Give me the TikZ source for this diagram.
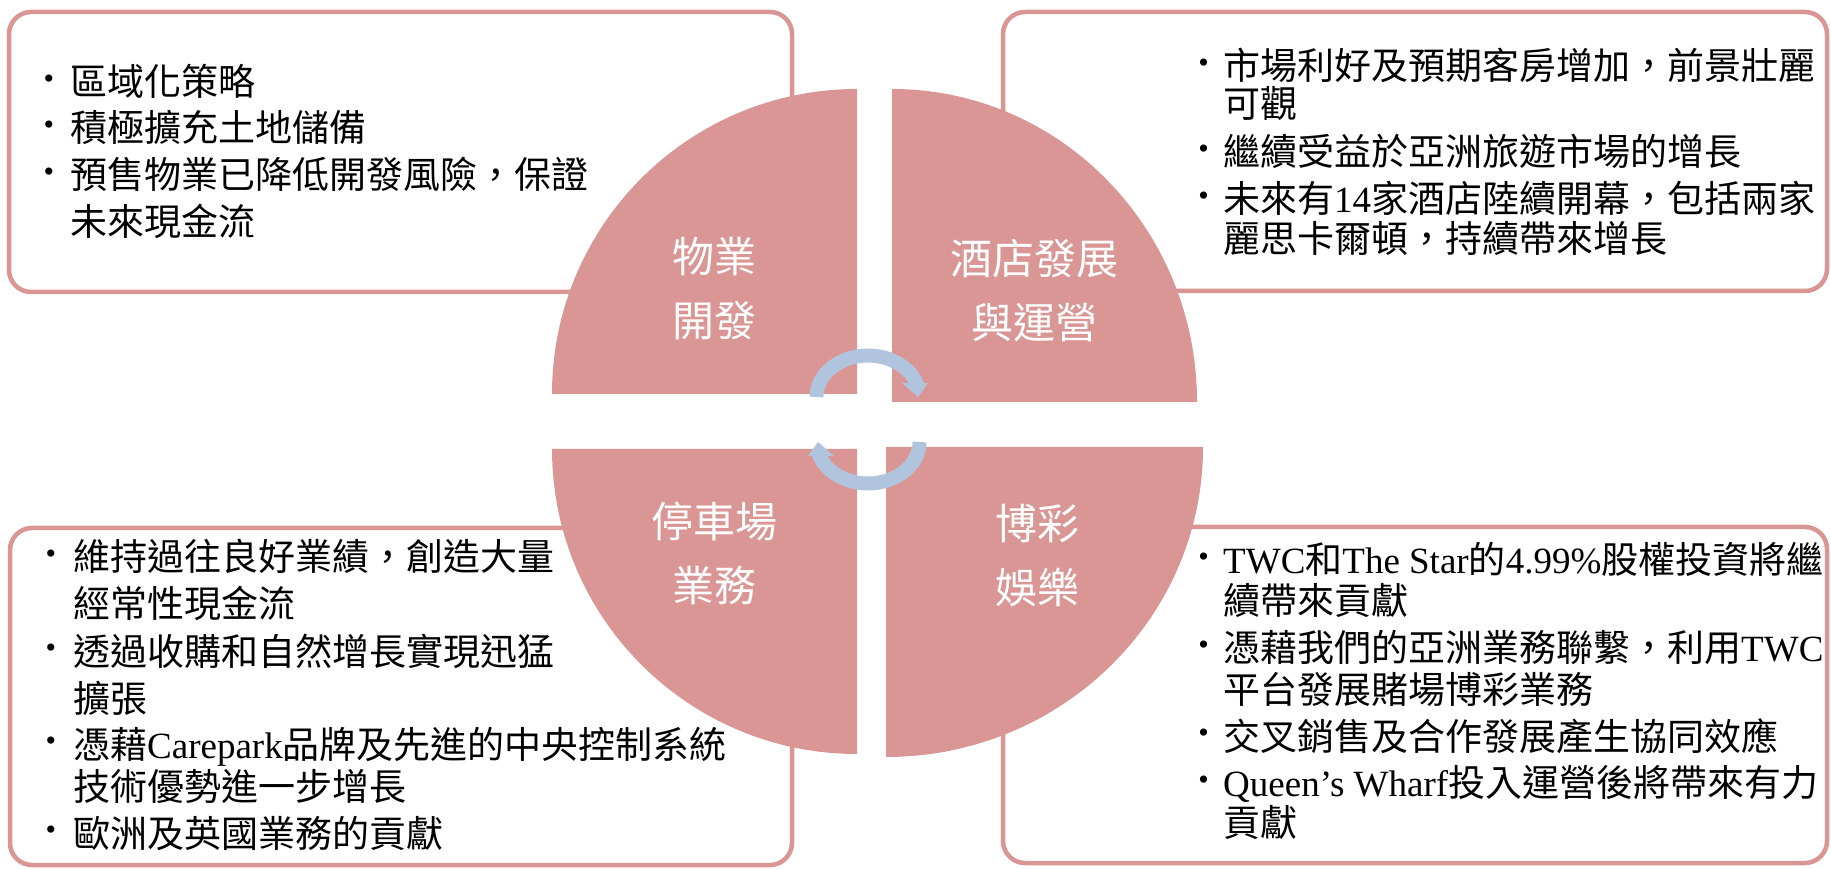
\documentclass[tikz,border=0pt]{standalone}
\usepackage{fontspec}
\newfontfamily\cjk{Noto Sans CJK TC}
\newfontfamily\lat{Liberation Serif}
\definecolor{piecol}{RGB}{217,150,148}
\definecolor{arrcol}{RGB}{176,196,222}
\begin{document}
\begin{tikzpicture}[x=1pt,y=1pt,
 box/.style={draw=piecol, line width=4.5pt, rounded corners=22pt, fill=white},
 quad/.style={fill=piecol},
 band/.style={draw=arrcol, line width=14pt},
 head/.style={fill=arrcol},
 txt/.style={anchor=base west, inner sep=0pt, font=\cjk\fontsize{37}{44}\selectfont},
 bul/.style={anchor=center, inner sep=0pt, font=\lat\fontsize{30}{30}\selectfont},
 lab/.style={align=center, inner sep=0pt, text=white, font=\cjk\fontsize{42}{64}\selectfont}]
\useasboundingbox (0,0) rectangle (1831,868);
% boxes
\draw[box] (9,576) rectangle (792,856);
\draw[box] (1003,577) rectangle (1827,856);
\draw[box] (10,3) rectangle (792,340);
\draw[box] (1003,5) rectangle (1827,341);
% pie quadrants
\fill[quad] (857,474) -- (552,474) arc[start angle=180,end angle=90,radius=305] -- cycle;
\fill[quad] (892,466) -- (892,779) arc[start angle=90,end angle=0,x radius=305,y radius=313] -- cycle;
\fill[quad] (857,419) -- (552,419) arc[start angle=180,end angle=270,radius=305] -- cycle;
\fill[quad] (886,421) -- (1203,421) arc[start angle=0,end angle=-90,x radius=317,y radius=310] -- cycle;
% labels
\node[lab] (l1) at (714,579.5) {物業\\開發};
\node[lab] (l2) at (1034.5,577) {酒店發展\\與運營};
\node[lab] (l3) at (714,314.5) {停車場\\業務};
\node[lab] (l4) at (1037,312) {博彩\\娛樂};
% cycle arrows
\draw[band] (816.5,471) arc[start angle=180,end angle=15,x radius=51.5,y radius=41.5];
\fill[head] (902,485) -- (928,485) -- (918,471) -- cycle;
\draw[band] (919.5,426) arc[start angle=0,end angle=-165,x radius=51.5,y radius=41.5];
\fill[head] (834,412) -- (808,412) -- (818,426) -- cycle;
% top-left text
\node[bul] (tlb1) at (49,786) {•};
\node[txt] (tlt1) at (70,772) {區域化策略};
\node[bul] (tlb2) at (49,740) {•};
\node[txt] (tlt2) at (70,726) {積極擴充土地儲備};
\node[bul] (tlb3) at (49,693) {•};
\node[txt] (tlt3) at (70,679) {預售物業已降低開發風險，保證};
\node[txt] (tlt4) at (70,632) {未來現金流};
% top-right text
\node[bul] (trb1) at (1203.5,802) {•};
\node[txt] (trt1) at (1223,788) {市場利好及預期客房增加，前景壯麗};
\node[txt] (trt2) at (1223,750) {可觀};
\node[bul] (trb2) at (1203.5,716) {•};
\node[txt] (trt3) at (1223,702) {繼續受益於亞洲旅遊市場的增長};
\node[bul] (trb3) at (1203.5,669) {•};
\node[txt] (trt4) at (1223,655) {未來有{\lat 14}家酒店陸續開幕，包括兩家};
\node[txt] (trt5) at (1223,615) {麗思卡爾頓，持續帶來增長};
% bottom-left text
\node[bul] (blb1) at (51,311) {•};
\node[txt] (blt1) at (73,297) {維持過往良好業績，創造大量};
\node[txt] (blt2) at (73,250) {經常性現金流};
\node[bul] (blb2) at (51,217) {•};
\node[txt] (blt3) at (73,203) {透過收購和自然增長實現迅猛};
\node[txt] (blt4) at (73,156) {擴張};
\node[bul] (blb3) at (51,124) {•};
\node[txt] (blt5) at (73,110) {憑藉{\lat Carepark}品牌及先進的中央控制系統};
\node[txt] (blt6) at (73,68) {技術優勢進一步增長};
\node[bul] (blb4) at (51,35) {•};
\node[txt] (blt7) at (73,21) {歐洲及英國業務的貢獻};
% bottom-right text
\node[bul] (brb1) at (1203.5,308) {•};
\node[txt] (brt1) at (1223,294) {{\lat TWC}和{\lat The Star}的{\lat 4.99\%}股權投資將繼};
\node[txt] (brt2) at (1223,253) {續帶來貢獻};
\node[bul] (brb2) at (1203.5,220.5) {•};
\node[txt] (brt3) at (1223,206.5) {憑藉我們的亞洲業務聯繫，利用{\lat TWC}};
\node[txt] (brt4) at (1223,165) {平台發展賭場博彩業務};
\node[bul] (brb3) at (1203.5,132) {•};
\node[txt] (brt5) at (1223,118) {交叉銷售及合作發展產生協同效應};
\node[bul] (brb4) at (1203.5,85.5) {•};
\node[txt] (brt6) at (1223,71.5) {{\lat Queen’s Wharf}投入運營後將帶來有力};
\node[txt] (brt7) at (1223,31.5) {貢獻};
\end{tikzpicture}
\end{document}
